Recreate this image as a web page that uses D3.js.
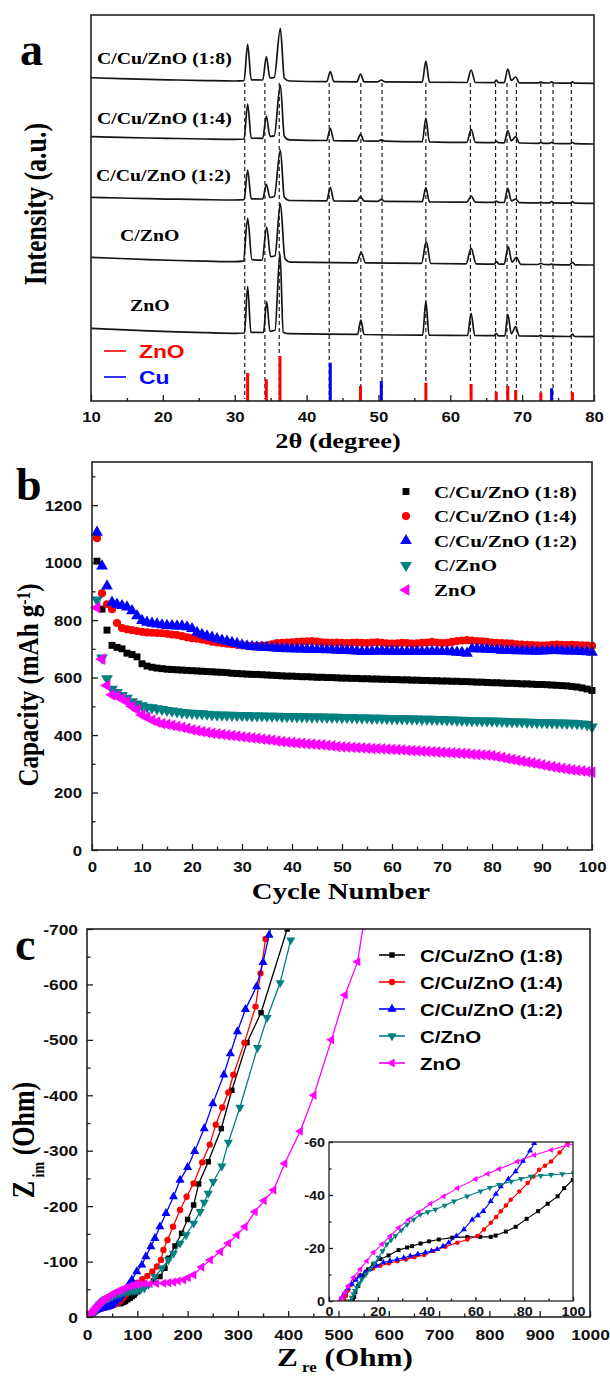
<!DOCTYPE html>
<html>
<head>
<meta charset="utf-8">
<script src="https://cdn.jsdelivr.net/npm/d3@7"></script>
<style>
  body { margin: 0; background: #fff; }
  svg { display: block; }
</style>
</head>
<body>
<svg id="fig" width="610" height="1379"></svg>
<script>
// ---------------- Panel a: XRD patterns ----------------
const xrdSamples = ["C/Cu/ZnO (1:8)", "C/Cu/ZnO (1:4)", "C/Cu/ZnO (1:2)", "C/ZnO", "ZnO"];
const xrdOffsets = [320, 261.7, 201, 139.3, 67.7];
// [2θ, intensity above the pattern's own baseline]
const xrdC18 = [[10,3.3],[14,2.4],[18,1.6],[22,1],[26,0.4],[30,0],
  [31.3,0.3],[31.8,36.7],[32.3,1.2],[33.9,1],[34.4,24.3],[34.9,3],[35.5,3.5],[36.35,52.7],[36.9,3],[37.6,0],
  [42.8,-0.6],[43.3,9.3],[43.8,-0.6],[47,-0.8],[47.5,7],[48,-0.8],[49.9,-0.9],[50.4,1],[50.9,-0.9],
  [56.1,-1.2],[56.6,20],[57.1,-1.2],[62.3,-1.5],[62.9,11],[63.5,-1.5],[66.1,-1.6],[66.4,1],[66.7,-1.6],
  [67.5,-1.7],[68.0,12],[68.5,0.5],[69.1,4],[69.6,-1.8],[72.3,-1.9],[72.6,-0.8],[72.9,-1.9],
  [73.8,-2],[74.1,-0.8],[74.4,-2],[76.7,-2.2],[77.0,-0.8],[77.3,-2.2],[80,-2.3]];
const xrdC14 = [[10,2.6],[14,1.9],[18,1.3],[22,0.8],[26,0.3],[30,0],
  [31.3,0.3],[31.8,35.3],[32.3,1.2],[33.9,1],[34.4,23.3],[34.9,3],[35.5,3.5],[36.35,54.3],[36.9,3],[37.6,-0.6],
  [42.8,-1.2],[43.3,11],[43.8,-1.3],[47,-1.6],[47.5,5],[48,-1.7],[49.9,-1.9],[50.4,-0.5],[50.9,-1.9],
  [56.1,-2.4],[56.6,21],[57.1,-2.5],[62.3,-3],[62.9,10],[63.5,-3.1],[66.1,-3.4],[66.4,-1.8],[66.7,-3.4],
  [67.5,-3.5],[68.0,8.6],[68.5,-1.5],[69.1,2.6],[69.6,-3.7],[72.3,-4],[72.6,-3],[72.9,-4],
  [73.8,-4.1],[74.1,-3],[74.4,-4.2],[76.7,-4.4],[77.0,-3.2],[77.3,-4.4],[80,-4.7]];
const xrdC12 = [[10,2.7],[14,2],[18,1.3],[22,0.8],[26,0.3],[30,0],
  [31.3,0.3],[31.8,30],[32.3,1.2],[33.9,1],[34.4,15.7],[34.9,2.5],[35.5,3.5],[36.35,50],[36.9,3],[37.6,-0.5],
  [42.8,-0.8],[43.3,12.7],[43.8,-0.9],[47,-1.1],[47.5,3.3],[48,-1.2],[49.9,-1.3],[50.4,0.7],[50.9,-1.4],
  [56.1,-1.7],[56.6,12.3],[57.1,-1.8],[62.3,-2.1],[62.9,4],[63.5,-2.2],[66.1,-2.4],[66.4,-1],[66.7,-2.4],
  [67.5,-2.5],[68.0,11.7],[68.5,-1],[69.1,1],[69.6,-2.6],[72.3,-2.8],[72.6,-2],[72.9,-2.8],
  [73.8,-2.9],[74.1,-1.5],[74.4,-2.9],[76.7,-3.1],[77.0,-1.5],[77.3,-3.1],[80,-3.3]];
const xrdCZnO = [[10,4.4],[14,3.2],[18,2.1],[22,1.2],[26,0.5],[30,0],
  [31.2,0.5],[31.8,43.4],[32.4,2],[33.8,1.5],[34.45,34.7],[35.0,5],[35.6,6],[36.35,58],[37.0,3],[37.8,-0.5],
  [47.0,-1.1],[47.6,9.4],[48.2,-1.2],[56.0,-1.7],[56.65,20],[57.3,-1.8],[62.2,-2.1],[62.9,13.4],[63.6,-2.2],
  [66.1,-2.4],[66.45,0],[66.8,-2.4],[67.5,-2.5],[68.05,15],[68.6,-0.5],[69.2,4.4],[69.8,-2.6],
  [72.2,-2.8],[72.6,-1.6],[73.0,-2.8],[73.8,-2.9],[74.1,-2.5],[74.4,-2.9],[76.6,-3.1],[77.0,-0.6],[77.4,-3.1],[80,-3.3]];
const xrdZnO = [[10,5],[14,3.6],[18,2.4],[22,1.4],[26,0.6],[30,0],
  [31.35,0.3],[31.8,46.6],[32.25,1],[34.0,0.8],[34.45,31.6],[34.9,2],[35.6,3],[36.3,80],[36.75,1],[37.4,-0.4],
  [47.1,-1.1],[47.55,13.3],[48.0,-1.2],[56.15,-1.8],[56.6,31.6],[57.05,-1.8],[62.4,-2.2],[62.9,20],[63.4,-2.2],
  [66.1,-2.4],[66.4,0],[66.7,-2.5],[67.6,-2.6],[68.0,19],[68.5,-0.5],[69.1,6.6],[69.6,-2.7],
  [72.3,-2.8],[72.6,-1.7],[72.9,-2.9],[76.7,-3.2],[77.0,-0.7],[77.3,-3.2],[80,-3.4]];
const xrdPatterns = [xrdC18, xrdC14, xrdC12, xrdCZnO, xrdZnO];
// standard reflections [2θ, relative intensity]
const refZnO = [[31.8,28],[34.4,21.7],[36.3,45],[47.5,15],[56.6,18.3],[62.9,17],[66.4,9.3],[68.0,15],[69.1,11],[72.6,8.3],[77.0,8.7]];
const refCu = [[43.3,38.3],[50.4,20],[74.1,12.7]];
const guideAngles = [31.4,34.2,36.2,43.15,47.55,50.5,56.6,62.8,66.3,67.9,69.2,72.6,74.3,76.85];
const refNames = ["ZnO", "Cu"];
const refColors = ["#ff0000", "#0000ff"];
const xrdTicks = [10,20,30,40,50,60,70,80];

// ---------------- Panel b: cycling capacity ----------------
const cycles = d3.range(1, 101);
const capC18 = [1005,838,765,712,705,700,685,680,672,648,
  640,636,633,631,629,628,627,626,625,624,623,622,621,620,619,618,617,615,614,613,
  612,611,611,610,609,608,607,606,605,605,604,603,603,602,601,601,600,600,599,598,
  598,597,597,596,596,595,595,594,594,593,593,592,592,591,591,590,590,589,589,588,
  588,587,587,586,586,585,584,584,583,582,582,581,580,580,579,578,578,577,576,576,
  575,574,573,572,571,569,567,564,560,555];
const capC14 = [1085,893,855,838,790,772,768,765,762,759,
  757,756,755,754,752,750,748,744,740,737,735,732,729,725,722,720,718,716,714,712,
  711,710,710,711,712,716,720,721,722,723,724,725,726,727,725,723,722,721,722,721,
  720,721,722,721,720,722,723,721,719,718,719,721,720,718,719,721,722,724,722,720,
  721,724,727,729,730,729,727,726,724,722,721,720,719,718,716,715,714,713,712,711,
  712,714,715,714,713,714,713,712,711,710];
const capC12 = [1105,988,918,862,855,850,845,832,815,798,
  792,789,786,783,781,780,779,779,776,770,757,750,744,740,735,730,726,722,718,713,
  710,708,706,705,704,703,702,701,700,700,699,699,698,698,697,697,696,696,695,695,
  694,693,692,690,690,691,692,692,691,691,691,690,690,691,691,690,690,691,691,690,
  690,689,688,687,684,700,700,699,698,697,696,695,694,694,693,693,692,692,691,692,
  693,694,694,693,692,692,691,690,689,688];
const capCZnO = [870,668,596,560,548,538,528,516,508,502,
  497,495,492,489,486,484,481,479,477,476,475,474,473,471,470,470,469,469,468,468,
  468,467,467,467,466,466,466,465,465,465,464,464,464,463,463,463,462,462,462,461,
  461,461,460,460,460,459,459,459,458,458,457,457,457,456,456,455,455,455,454,454,
  453,453,452,452,451,451,450,450,449,449,448,448,447,447,446,446,445,445,444,444,
  443,443,442,442,441,441,440,439,437,428];
const capZnO = [843,664,572,540,535,526,515,500,488,470,
  462,452,445,440,437,434,430,427,423,418,415,412,409,406,404,402,400,398,396,394,
  392,390,388,386,384,382,379,377,375,374,372,371,369,368,367,366,364,362,360,359,
  358,357,356,355,354,353,353,352,351,350,349,348,347,346,345,344,343,342,341,340,
  339,338,337,336,335,333,332,331,330,328,325,322,318,315,312,309,306,303,300,296,
  293,290,287,284,281,279,277,275,273,271];
const capSeries = [capC18, capC14, capC12, capCZnO, capZnO];
const capTicksX = [0,10,20,30,40,50,60,70,80,90,100];
const capTicksY = [0,200,400,600,800,1000,1200];

// ---------------- Panel c: Nyquist plots [Z_re, Z_im] ----------------
const eisC18 = [[9.8,0],[10.3,-1.5],[10.8,-3.3],[12,-5.7],[14,-9.5],[16,-12],[18.2,-14],[21,-15.8],[24.4,-17.2],[28.5,-19.2],
  [32,-20.2],[34,-20.7],[37.5,-21.7],[41,-22.5],[45,-23.2],[50.5,-23.9],[56.7,-24.2],[62,-24.2],[66.3,-24.2],[68.3,-24.7],
  [72.5,-26.2],[76.5,-28],[81,-31],[85.7,-33.9],[89.6,-36.7],[93.7,-39.5],[96.4,-42.6],[99.9,-45.7],
  [110,-52],[120,-58],[132,-65],[145,-73],[155,-88],[162,-106],[175,-128],[188,-151],[200,-176],[212,-202],[222,-240],
  [241,-280],[267,-340],[288,-409],[318,-495],[346,-549],[398,-700]];
const eisC14 = [[6.5,0],[7,-2],[7.8,-4],[9,-6],[10.5,-8],[12.5,-9.7],[15,-11],[18,-12.3],[21,-13.3],[24.5,-14.2],
  [28,-15],[31.5,-15.7],[35,-16.5],[39,-17.4],[42.9,-18.9],[47.7,-20.5],[52.6,-22],[56.7,-23.2],[60.8,-24.5],[63.5,-27],
  [66.3,-29.5],[68.5,-31.7],[70.4,-33.9],[72.5,-36],[74.5,-38.2],[78,-41.3],[81.4,-44.5],[83.8,-47],[86.1,-49.5],[88.5,-51],
  [91,-52.6],[94.5,-56],[97.8,-59.5],[101,-62],[110,-68],[120,-74],[130,-82],[139,-91],[147,-103],[152,-121],[160,-139],
  [171,-163],[185,-193],[198,-217],[212,-241],[229,-279],[244,-311],[256,-347],[269,-378],[281,-405],[291,-437],
  [313,-495],[335,-560],[345,-620],[355,-682]];
const eisC12 = [[4.5,0],[5.5,-1.6],[6.6,-3.2],[7.8,-4.8],[9.3,-6.4],[11,-8],[12.8,-9.5],[14.8,-10.8],[16.9,-12],[19.5,-13.3],
  [22.3,-14.5],[25,-15.1],[27.9,-15.7],[30.6,-16.3],[33.3,-17],[36.4,-17.6],[39.5,-18.3],[42,-18.9],[44.3,-19.5],[46.7,-20.7],
  [49.1,-22],[52.2,-24.5],[55.3,-27],[58.7,-30.7],[61,-32.3],[63.2,-33.9],[66.3,-37.6],[68.4,-40.4],[70.4,-43.2],[73.5,-46],
  [76.5,-48.9],[79.5,-52.8],[82.4,-56.7],[84.1,-59.5],[89,-67],[99,-82],[109,-94],[117,-109],[127,-127],[135,-142],
  [145,-163],[157,-187],[172,-217],[185,-247],[200,-270],[214,-299],[233,-340],[250,-385],[272,-437],[285,-475],
  [299,-515],[315,-555],[337,-596],[350,-640],[362,-689],[368,-712]];
const eisCZnO = [[8.6,0],[9.3,-1.3],[10,-2.6],[10.7,-3.9],[11.4,-5.1],[12.4,-6.6],[13.5,-8.2],[15.2,-10.1],[16.9,-12],[18.6,-14.2],
  [20.3,-16.4],[22,-18.9],[23.7,-21.4],[25.4,-23],[27.2,-24.5],[29.6,-26.7],[32,-28.9],[34.7,-30.8],[37.4,-32.6],[40.5,-33.6],
  [43.6,-34.5],[47.4,-36],[51.2,-37.6],[56.6,-39.5],[62.1,-41.4],[65.9,-42.7],[69.7,-43.9],[74.7,-45.1],[78.7,-46.1],[82.7,-47],
  [86.8,-47.3],[91,-47.6],[95.6,-47.9],[100.3,-48.2],[107,-49.5],[114,-52],[122,-58],[135,-73],[149,-88],[162,-103],
  [172,-115],[185,-133],[197,-148],[212,-169],[225,-190],[233,-207],[241,-223],[251,-244],[268,-272],[281,-315],
  [304,-378],[339,-486],[358,-540],[384,-603],[405,-680]];
const eisZnO = [[4.5,0],[5.2,-1.4],[6.6,-3.2],[7.9,-5.7],[10,-8.9],[12.8,-12],[15.5,-15.1],[18.2,-18.3],[21.7,-21.4],[25.1,-24.5],
  [28.5,-27.6],[32.6,-30.7],[36.7,-33.5],[41.6,-36.7],[47,-39.5],[52.6,-42.6],[60.1,-46],[65,-48],[69.7,-49.8],[77.2,-52.6],
  [84.1,-55.1],[91,-57],[97.8,-58.9],[105,-59.5],[115,-60],[125,-60],[138,-60.5],[152,-61],[162,-62],[172,-63],
  [181,-65],[192,-67],[201,-71],[212,-76],[228,-90],[245,-103],[265,-118],[281,-133],[298,-148],[314,-163],
  [334,-190],[352,-210],[371,-229],[393,-277],[424,-335],[451,-400],[486,-500],[513,-581],[538,-641],[549,-705]];
const eisSeries = [eisC18, eisC14, eisC12, eisCZnO, eisZnO];
const eisTicksX = [0,100,200,300,400,500,600,700,800,900,1000];
const eisTicksY = [0,-100,-200,-300,-400,-500,-600,-700];
const insetTicksX = [0,20,40,60,80,100];
const insetTicksY = [0,-20,-40,-60];

// shared series styling (legend order)
const seriesNames = ["C/Cu/ZnO (1:8)", "C/Cu/ZnO (1:4)", "C/Cu/ZnO (1:2)", "C/ZnO", "ZnO"];
const seriesColors = ["#000000", "#ff0000", "#0000ff", "#008080", "#ff00ff"];
const seriesShapes = ["square", "circle", "up", "down", "left"];

// ================= drawing =================
const SX = 1.2;   // horizontal stretch of the lettering
const SERIF = "'Liberation Serif','Times New Roman',serif";
const SANS = "'Liberation Sans',Arial,sans-serif";
const svg = d3.select("#fig");
const defs = svg.append("defs");
const plain = d => String(d);

function txt(parent, x, y, str, o = {}) {
  const sx = o.sx ?? SX;
  const t = parent.append("text")
    .attr("transform", `translate(${x},${y}) scale(${sx},1)` + (o.rot ? ` rotate(${o.rot})` : ""))
    .attr("text-anchor", o.anchor || "start")
    .attr("font-family", o.font || SERIF)
    .attr("font-size", o.size || 16)
    .attr("font-weight", "bold")
    .attr("fill", o.fill || "#000");
  if (str != null) t.text(str);
  return t;
}

function axis(parent, gen, translate, lab) {
  const a = parent.append("g").attr("transform", translate).call(gen);
  a.select(".domain").remove();
  a.selectAll(".tick line").attr("stroke", "#1a1a1a").attr("stroke-width", 1.3);
  if (!lab) { a.selectAll(".tick text").remove(); return a; }
  a.selectAll(".tick text")
    .attr("x", null).attr("y", null).attr("dy", null)
    .attr("text-anchor", lab.anchor)
    .attr("transform", `translate(${lab.dx},${lab.dy}) scale(${SX},1)`)
    .attr("font-family", SANS).attr("font-size", lab.size || 14)
    .attr("font-weight", "bold").attr("fill", "#111");
  return a;
}

function frame(parent, box, w = 1.6) {
  parent.append("rect").attr("x", box.l).attr("y", box.t)
    .attr("width", box.r - box.l).attr("height", box.b - box.t)
    .attr("fill", "none").attr("stroke", "#222").attr("stroke-width", w);
}

function clip(id, box) {
  defs.append("clipPath").attr("id", id).append("rect")
    .attr("x", box.l).attr("y", box.t).attr("width", box.r - box.l).attr("height", box.b - box.t);
  return `url(#${id})`;
}

const symTypes = { square: d3.symbolSquare, circle: d3.symbolCircle, up: d3.symbolTriangle, down: d3.symbolTriangle, left: d3.symbolTriangle };
const symRot = { square: 0, circle: 0, up: 0, down: 180, left: -90 };
function marker(parent, shape, x, y, size, color) {
  parent.append("path")
    .attr("d", d3.symbol().type(symTypes[shape]).size(size)())
    .attr("transform", `translate(${x},${y}) rotate(${symRot[shape]})`)
    .attr("fill", color);
}

// ---------- panel a ----------
{
  const A = { l: 91, r: 594, t: 15, b: 401 };
  const x = d3.scaleLinear().domain([10, 80]).range([A.l, A.r]);
  const y = d3.scaleLinear().domain([0, 386]).range([A.b, A.t]);
  const g = svg.append("g");
  const plot = g.append("g").attr("clip-path", clip("clipA", A));

  plot.append("g").selectAll("line").data(guideAngles).join("line")
    .attr("x1", d => x(d)).attr("x2", d => x(d))
    .attr("y1", y(318)).attr("y2", y(2))
    .attr("stroke", "#1a1a1a").attr("stroke-width", 1.2).attr("stroke-dasharray", "4,3");

  [refZnO, refCu].forEach((ref, k) => {
    plot.append("g").selectAll("line").data(ref).join("line")
      .attr("x1", d => x(d[0])).attr("x2", d => x(d[0]))
      .attr("y1", y(0)).attr("y2", d => y(d[1]))
      .attr("stroke", refColors[k]).attr("stroke-width", 3);
  });

  xrdPatterns.forEach((pat, k) => {
    const off = xrdOffsets[k];
    const line = d3.line().x(d => x(d[0])).y(d => y(off + d[1])).curve(d3.curveMonotoneX);
    plot.append("path").datum(pat).attr("d", line)
      .attr("fill", "none").attr("stroke", "#151515").attr("stroke-width", 1.7).attr("stroke-linejoin", "round");
  });

  axis(g, d3.axisBottom(x).tickValues(xrdTicks).tickSize(-6).tickFormat(plain), `translate(0,${A.b})`,
    { anchor: "middle", dx: 0, dy: 21 });
  axis(g, d3.axisBottom(x).tickValues(d3.range(15, 80, 10)).tickSize(-3), `translate(0,${A.b})`, null);
  frame(g, A);

  const labelAt = [[97, 64], [97, 124], [96, 181], [120, 241], [130, 311]];
  xrdSamples.forEach((s, k) => txt(g, labelAt[k][0], labelAt[k][1], s, { size: 16.5 }));

  refNames.forEach((n, k) => {
    const yy = 351 + k * 26;
    g.append("line").attr("x1", 104).attr("x2", 126).attr("y1", yy).attr("y2", yy)
      .attr("stroke", refColors[k]).attr("stroke-width", 1.6);
    txt(g, 139, yy + 7, n, { font: SANS, size: 19, fill: refColors[k] });
  });

  txt(g, 338, 448, "2θ (degree)", { anchor: "middle", size: 22 });
  txt(g, 46, 204, "Intensity (a.u.)", { anchor: "middle", size: 26, rot: -90 });
  txt(g, 20, 65, "a", { size: 46, sx: 1 });
}

// ---------- panel b ----------
{
  const B = { l: 92, r: 592, t: 462, b: 850 };
  const x = d3.scaleLinear().domain([0, 100]).range([B.l, B.r]);
  const y = d3.scaleLinear().domain([0, 1350]).range([B.b, B.t]);
  const g = svg.append("g");
  const plot = g.append("g").attr("clip-path", clip("clipB", { l: B.l - 6, r: B.r + 6, t: B.t, b: B.b }));
  const sizes = [48, 52, 60, 60, 60];

  capSeries.forEach((vals, k) => {
    const sg = plot.append("g");
    vals.forEach((v, i) => marker(sg, seriesShapes[k], x(cycles[i]), y(v), sizes[k], seriesColors[k]));
  });

  axis(g, d3.axisBottom(x).tickValues(capTicksX).tickSize(-6).tickFormat(plain), `translate(0,${B.b})`,
    { anchor: "middle", dx: 0, dy: 22 });
  axis(g, d3.axisBottom(x).tickValues(d3.range(5, 100, 10)).tickSize(-3.5), `translate(0,${B.b})`, null);
  axis(g, d3.axisLeft(y).tickValues(capTicksY).tickSize(-6).tickFormat(plain), `translate(${B.l},0)`,
    { anchor: "end", dx: -10, dy: 5 });
  axis(g, d3.axisLeft(y).tickValues(d3.range(100, 1350, 200)).tickSize(-3.5), `translate(${B.l},0)`, null);
  frame(g, B);

  seriesNames.forEach((n, k) => {
    const yy = 491.5 + k * 24.6;
    marker(g, seriesShapes[k], 406, yy, sizes[k], seriesColors[k]);
    txt(g, 434, yy + 6, n, { size: 17.5 });
  });

  txt(g, 341, 899, "Cycle Number", { anchor: "middle", size: 24 });
  const yl = txt(g, 38, 685, null, { anchor: "middle", size: 25, rot: -90 });
  yl.append("tspan").text("Capacity (mAh g");
  yl.append("tspan").attr("dy", "-0.45em").attr("font-size", "0.62em").text("-1");
  yl.append("tspan").attr("dy", "0.28em").text(")");
  txt(g, 16, 500, "b", { size: 46, sx: 1 });
}

// ---------- panel c ----------
{
  const C = { l: 87, r: 590, t: 929, b: 1317 };
  const x = d3.scaleLinear().domain([0, 1000]).range([C.l, C.r]);
  const y = d3.scaleLinear().domain([0, -700]).range([C.b, C.t]);
  const g = svg.append("g");
  const plot = g.append("g").attr("clip-path", clip("clipC", C));
  const mSize = [30, 32, 36, 36, 36];

  eisSeries.forEach((pts, k) => {
    const line = d3.line().x(d => x(d[0])).y(d => y(d[1]));
    plot.append("path").datum(pts).attr("d", line)
      .attr("fill", "none").attr("stroke", seriesColors[k]).attr("stroke-width", 1.3);
    const sg = plot.append("g");
    pts.forEach(d => marker(sg, seriesShapes[k], x(d[0]), y(d[1]), mSize[k], seriesColors[k]));
  });

  axis(g, d3.axisBottom(x).tickValues(eisTicksX).tickSize(-6).tickFormat(plain), `translate(0,${C.b})`,
    { anchor: "middle", dx: 0, dy: 23, size: 14.5 });
  axis(g, d3.axisBottom(x).tickValues(d3.range(50, 1000, 100)).tickSize(-3.5), `translate(0,${C.b})`, null);
  axis(g, d3.axisLeft(y).tickValues(eisTicksY).tickSize(-6).tickFormat(plain), `translate(${C.l},0)`,
    { anchor: "end", dx: -9, dy: 5, size: 14.5 });
  axis(g, d3.axisLeft(y).tickValues(d3.range(-50, -700, -100)).tickSize(-3.5), `translate(${C.l},0)`, null);
  frame(g, C);

  // inset: high-frequency region
  const I = { l: 329, r: 573, t: 1142, b: 1301 };
  const xi = d3.scaleLinear().domain([0, 100]).range([I.l, I.r]);
  const yi = d3.scaleLinear().domain([0, -60]).range([I.b, I.t]);
  g.append("rect").attr("x", I.l).attr("y", I.t).attr("width", I.r - I.l).attr("height", I.b - I.t).attr("fill", "#fff");
  const ip = g.append("g").attr("clip-path", clip("clipI", I));
  eisSeries.forEach((pts, k) => {
    const line = d3.line().x(d => xi(d[0])).y(d => yi(d[1]));
    ip.append("path").datum(pts).attr("d", line)
      .attr("fill", "none").attr("stroke", seriesColors[k]).attr("stroke-width", 1.1);
    const sg = ip.append("g");
    pts.forEach(d => marker(sg, seriesShapes[k], xi(d[0]), yi(d[1]), 16, seriesColors[k]));
  });
  axis(g, d3.axisBottom(xi).tickValues(insetTicksX).tickSize(-4).tickFormat(plain), `translate(0,${I.b})`,
    { anchor: "middle", dx: 0, dy: 15, size: 12 });
  axis(g, d3.axisBottom(xi).tickValues(d3.range(10, 100, 20)).tickSize(-2.5), `translate(0,${I.b})`, null);
  axis(g, d3.axisLeft(yi).tickValues(insetTicksY).tickSize(-4).tickFormat(plain), `translate(${I.l},0)`,
    { anchor: "end", dx: -4, dy: 4.5, size: 12 });
  axis(g, d3.axisLeft(yi).tickValues([-10, -30, -50]).tickSize(-2.5), `translate(${I.l},0)`, null);
  frame(g, I, 1.3);

  seriesNames.forEach((n, k) => {
    const yy = 955 + k * 27;
    g.append("line").attr("x1", 379).attr("x2", 405).attr("y1", yy).attr("y2", yy)
      .attr("stroke", seriesColors[k]).attr("stroke-width", 1.6);
    marker(g, seriesShapes[k], 392, yy, mSize[k], seriesColors[k]);
    txt(g, 420, yy + 6.5, n, { font: SANS, size: 17 });
  });

  const xl = txt(g, 345, 1366, null, { anchor: "middle", size: 26 });
  xl.append("tspan").text("Z");
  xl.append("tspan").attr("dy", 6).attr("font-size", 14).text(" re");
  xl.append("tspan").attr("dy", -6).text(" (Ohm)");
  const yl2 = txt(g, 34, 1140, null, { anchor: "middle", size: 26, rot: -90 });
  yl2.append("tspan").text("Z");
  yl2.append("tspan").attr("dy", 8).attr("font-size", 14).text(" im");
  yl2.append("tspan").attr("dy", -8).text(" (Ohm)");
  txt(g, 15, 960, "c", { size: 46, sx: 1 });
}
</script>
</body>
</html>
